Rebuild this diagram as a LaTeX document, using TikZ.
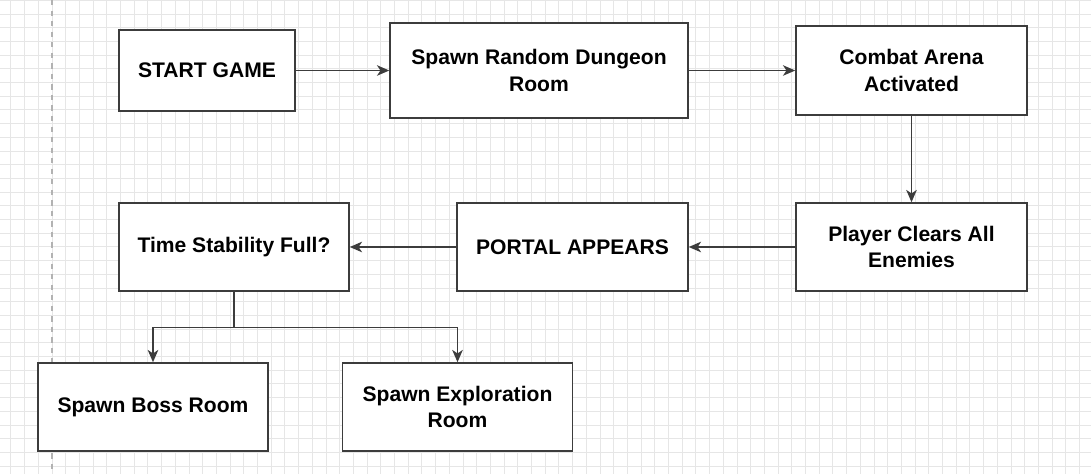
\documentclass[tikz,border=0pt]{standalone}
\usepackage{fontspec}
\setmainfont{Liberation Sans}
\usetikzlibrary{arrows.meta}
\definecolor{gridgray}{HTML}{E6E6E6}
\definecolor{boxline}{HTML}{3C3C3C}
\begin{document}
\begin{tikzpicture}[x=0.02cm, y=-0.02cm,
  box/.style={draw=boxline, line width=0.9pt, fill=white, inner sep=0pt, align=center,
    font=\fontsize{12}{15}\selectfont\bfseries, minimum width=4.6cm, minimum height=1.76cm},
  flow/.style={draw=boxline, line width=0.75pt, -{Stealth[length=7pt, width=6pt, inset=2pt]}}]
\useasboundingbox [fill=white] (0,0) rectangle (1091,474);
% background grid
\foreach \k in {-3,...,76}
  \draw [gridgray, line width=0.5pt] (52+13.7*\k,0) -- (52+13.7*\k,474);
\foreach \k in {0,...,34}
  \draw [gridgray, line width=0.5pt] (0,0.3+13.7*\k) -- (1091,0.3+13.7*\k);
\draw [gray!60, dashed, line width=0.6pt] (52,0) -- (52,474);
% boxes
\node [box, minimum width=3.52cm, minimum height=1.62cm] (start) at (207,70.5) {START GAME};
\node [box, minimum width=5.96cm, minimum height=1.9cm] (spawn) at (539,70.5) {Spawn Random Dungeon\\Room};
\node [box, minimum width=4.62cm, minimum height=1.78cm] (combat) at (911.5,70.5) {Combat Arena\\Activated};
\node [box, minimum width=4.62cm] (clear) at (911.5,247) {Player Clears All\\Enemies};
\node [box, minimum width=4.62cm] (portal) at (572.5,247) {PORTAL APPEARS};
\node [box] (stability) at (234,247) {Time Stability Full?};
\node [box] (boss) at (153,407) {Spawn Boss Room};
\node [box] (explore) at (457.5,407) {Spawn Exploration\\Room};
% connectors
\draw [flow] (start) -- (spawn);
\draw [flow] (spawn) -- (combat);
\draw [flow] (combat) -- (clear);
\draw [flow] (clear) -- (portal);
\draw [flow] (portal) -- (stability);
\draw [boxline, line width=0.75pt] (stability.south) -- ++(0,36) coordinate (split);
\draw [flow] (split) -| (boss.north);
\draw [flow] (split) -| (explore.north);
\end{tikzpicture}
\end{document}
